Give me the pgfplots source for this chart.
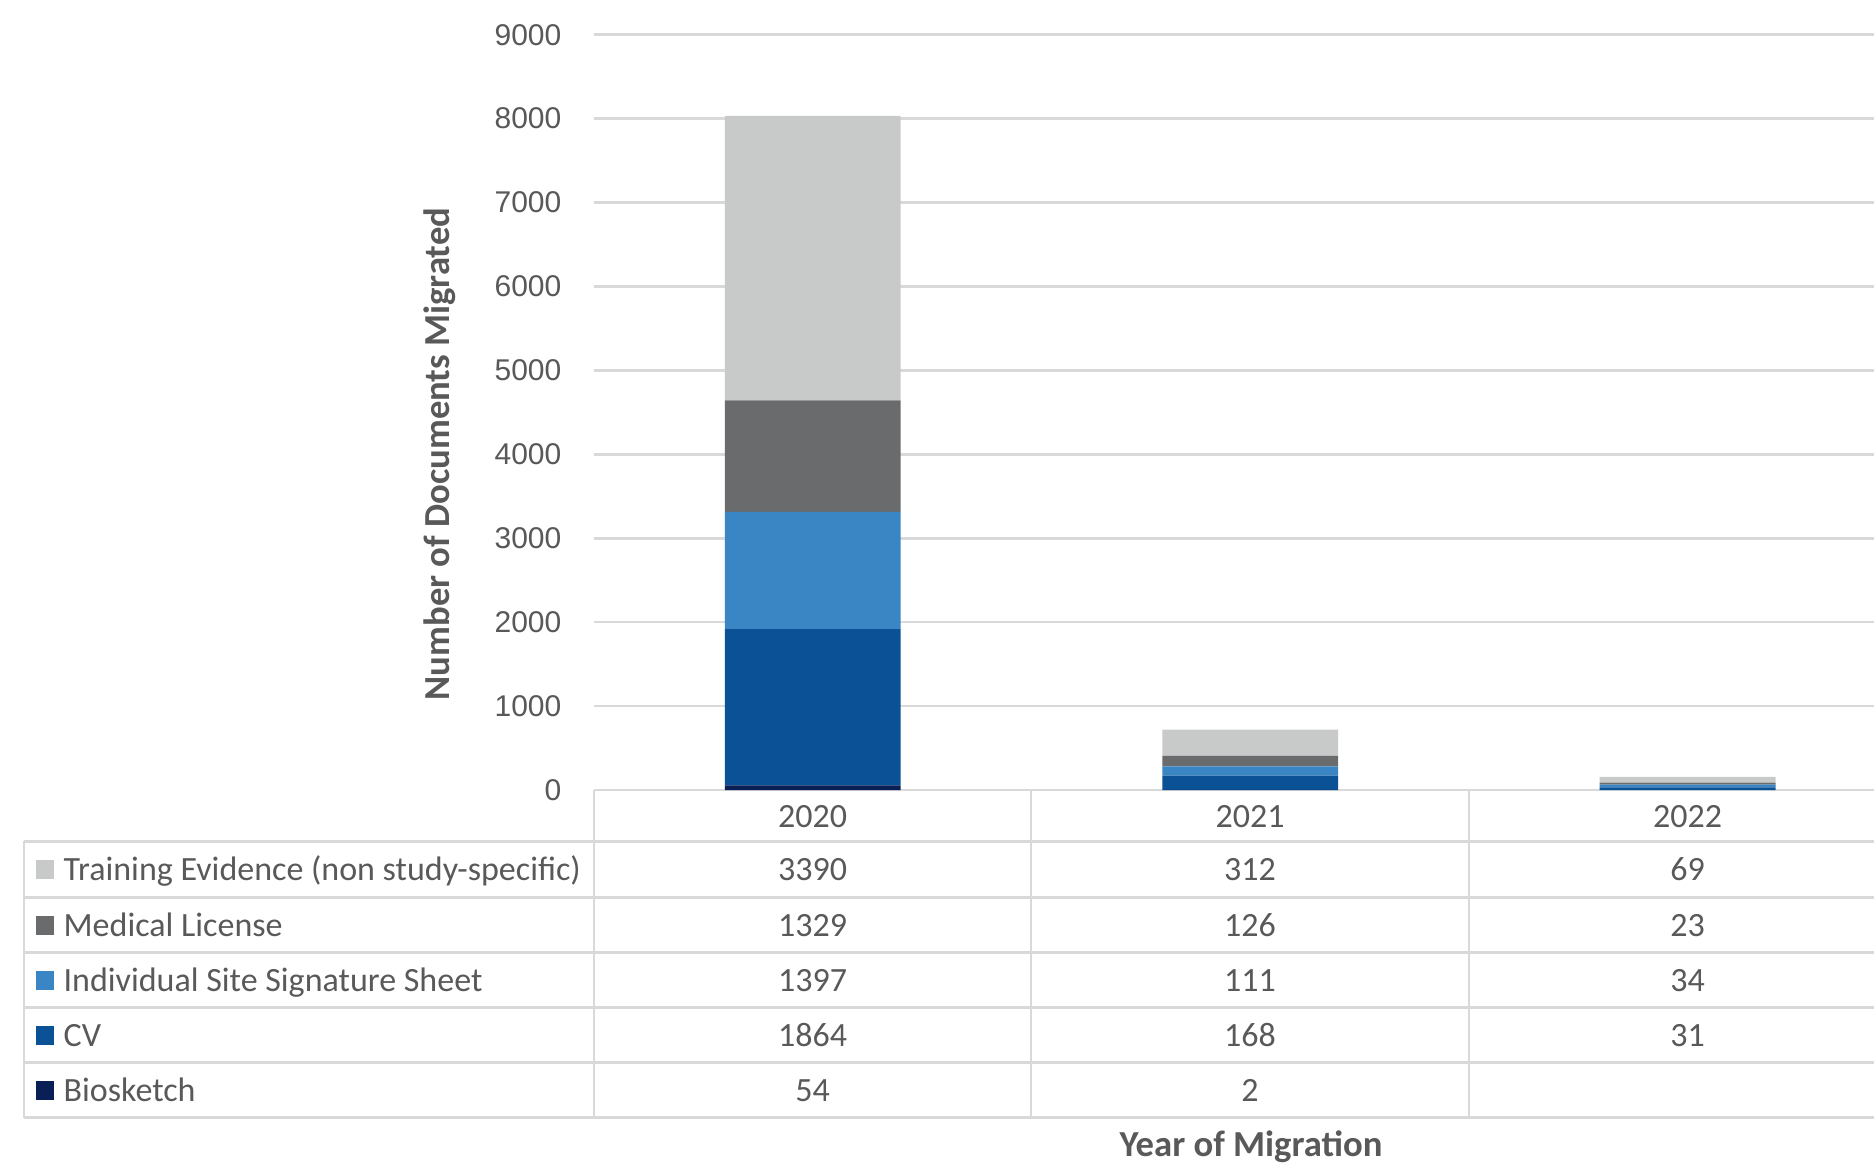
\documentclass[border=0pt]{standalone}
\usepackage{pgfplots}
\pgfplotsset{compat=1.18}
\usepackage{pgfplotstable}
\usepackage{fontspec}
\setmainfont{Carlito}
\newfontfamily\arialf{Liberation Sans}
\definecolor{cTrain}{HTML}{C8C9C9}
\definecolor{cMed}{HTML}{6A6B6D}
\definecolor{cSig}{HTML}{3A86C5}
\definecolor{cCV}{HTML}{0B5195}
\definecolor{cBio}{HTML}{0B1F57}
\definecolor{txt}{HTML}{595959}
\definecolor{gridc}{HTML}{D9D9D9}

\pgfplotstableread{
x bio cv sig med train
0 54 1864 1397 1329 3390
1 2 168 111 126 312
2 0 31 34 23 69
}\data

\begin{document}
\begin{tikzpicture}
\path[use as bounding box] (0,0) rectangle (562.2pt,-352.5pt);
\begin{axis}[
  at={(178.2pt,-237pt)}, anchor=south west,
  scale only axis, width=384pt, height=226.6pt,
  xmin=-0.5, xmax=2.426, ymin=0, ymax=9000,
  ybar stacked, bar width=0.402,
  axis line style={draw=none},
  major tick length=0pt,
  xtick=\empty,
  ytick={0,1000,...,9000},
  ymajorgrids, grid style={gridc, line width=0.8pt},
  yticklabel style={font=\arialf\fontsize{9}{10}\selectfont, text=txt, anchor=east, inner sep=0pt, xshift=-9.6pt},
  /pgf/number format/assume math mode=true,
  /pgf/number format/1000 sep={},
  every axis plot/.append style={draw=none},
]
\addplot[fill=cBio, draw=none] table[x=x,y=bio]{\data};
\addplot[fill=cCV, draw=none] table[x=x,y=cv]{\data};
\addplot[fill=cSig, draw=none] table[x=x,y=sig]{\data};
\addplot[fill=cMed, draw=none] table[x=x,y=med]{\data};
\addplot[fill=cTrain, draw=none] table[x=x,y=train]{\data};
\end{axis}
\begin{scope}[x=0.3pt,y=-0.3pt, every node/.style={text=txt, font=\fontsize{10.2}{12}\selectfont, text height=6.6pt, text depth=0pt, inner sep=0pt}]
  % table grid
  \foreach \yy in {841.4,897.6,952.6,1007.6,1062.5,1117.5}
    \draw[gridc, line width=0.8pt] (24,\yy) -- (1874,\yy);
  \draw[gridc, line width=0.8pt] (24,841.4) -- (24,1117.5);
  \foreach \xx in {594,1031,1469}
    \draw[gridc, line width=0.8pt] (\xx,790) -- (\xx,1117.5);
  % header years
  \node at (812.5,816) {2020};
  \node at (1250,816) {2021};
  \node at (1687.5,816) {2022};
  % legend rows
  \fill[cTrain] (36,860) rectangle (54,879);
  \node[anchor=west] at (63,869.5) {Training Evidence (non study-specific)};
  \fill[cMed] (36,915.6) rectangle (54,934.6);
  \node[anchor=west] at (63,925.1) {Medical License};
  \fill[cSig] (36,970.6) rectangle (54,989.6);
  \node[anchor=west] at (63,980.1) {Individual Site Signature Sheet};
  \fill[cCV] (36,1025.5) rectangle (54,1044.5);
  \node[anchor=west] at (63,1035) {CV};
  \fill[cBio] (36,1080.5) rectangle (54,1099.5);
  \node[anchor=west] at (63,1090) {Biosketch};
  % values
  \node at (812.5,869.5) {3390}; \node at (1250,869.5) {312}; \node at (1687.5,869.5) {69};
  \node at (812.5,925.1) {1329}; \node at (1250,925.1) {126}; \node at (1687.5,925.1) {23};
  \node at (812.5,980.1) {1397}; \node at (1250,980.1) {111}; \node at (1687.5,980.1) {34};
  \node at (812.5,1035) {1864}; \node at (1250,1035) {168}; \node at (1687.5,1035) {31};
  \node at (812.5,1090) {54}; \node at (1250,1090) {2};
  % axis titles
  \node[rotate=90, font=\bfseries\fontsize{11}{13}\selectfont, text height=7.5pt, text depth=2pt] at (440,454) {Number of Documents Migrated};
  \node[font=\bfseries\fontsize{11}{13}\selectfont, text height=7.5pt, text depth=2pt] at (1251,1147) {Year of Migration};
\end{scope}
\end{tikzpicture}
\end{document}
